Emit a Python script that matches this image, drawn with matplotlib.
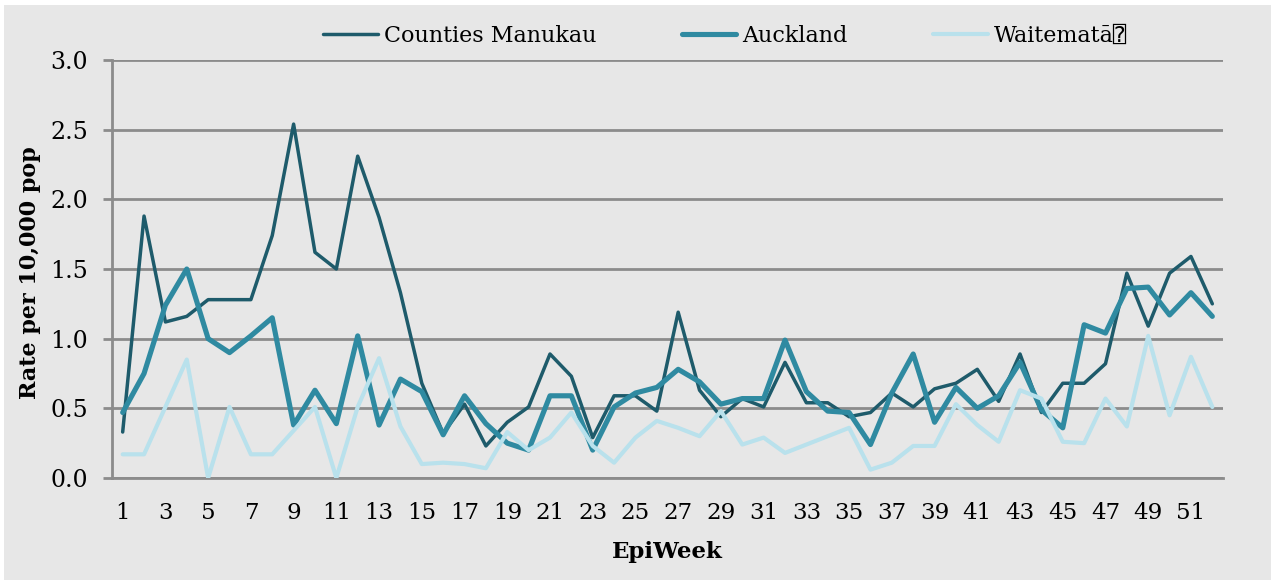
import matplotlib
matplotlib.use("Agg")
import matplotlib.pyplot as plt
from matplotlib.patches import Rectangle
from matplotlib.font_manager import FontProperties

plt.rcParams.update({'font.family': 'DejaVu Serif'})

# Tasas semanales por 10,000 habitantes
weeks = list(range(1, 53))
counties = [0.33, 1.88, 1.12, 1.16, 1.28, 1.28, 1.28, 1.74, 2.54, 1.62,
            1.50, 2.31, 1.87, 1.33, 0.68, 0.32, 0.53, 0.23, 0.40, 0.51,
            0.89, 0.73, 0.29, 0.59, 0.59, 0.48, 1.19, 0.63, 0.44, 0.57,
            0.51, 0.83, 0.54, 0.54, 0.44, 0.47, 0.61, 0.51, 0.64, 0.68,
            0.78, 0.55, 0.89, 0.47, 0.68, 0.68, 0.82, 1.47, 1.09, 1.47,
            1.59, 1.25]
auckland = [0.47, 0.75, 1.24, 1.50, 1.00, 0.90, 1.02, 1.15, 0.38, 0.63,
            0.39, 1.02, 0.38, 0.71, 0.62, 0.31, 0.59, 0.39, 0.25, 0.20,
            0.59, 0.59, 0.20, 0.51, 0.61, 0.65, 0.78, 0.69, 0.53, 0.57,
            0.57, 0.99, 0.62, 0.48, 0.47, 0.24, 0.61, 0.89, 0.40, 0.65,
            0.50, 0.59, 0.83, 0.49, 0.36, 1.10, 1.04, 1.36, 1.37, 1.17,
            1.33, 1.16]
waitemata = [0.17, 0.17, 0.51, 0.85, 0.00, 0.51, 0.17, 0.17, 0.34, 0.51,
             0.00, 0.51, 0.86, 0.37, 0.10, 0.11, 0.10, 0.07, 0.33, 0.20,
             0.29, 0.47, 0.23, 0.11, 0.29, 0.41, 0.36, 0.30, 0.48, 0.24,
             0.29, 0.18, 0.24, 0.30, 0.36, 0.06, 0.11, 0.23, 0.23, 0.53,
             0.38, 0.26, 0.63, 0.57, 0.26, 0.25, 0.57, 0.37, 1.02, 0.45,
             0.87, 0.51]
series_names = ['Counties Manukau', 'Auckland', 'Waitematā\u2370']
xtick_weeks = weeks[::2]
ytick_vals = [0.0, 0.5, 1.0, 1.5, 2.0, 2.5, 3.0]

BG = '#E7E7E7'
GRID = '#8C8C8C'
STYLES = [('#1E5B6B', 2.5), ('#2F8AA1', 3.7), ('#B9E1EC', 3.0)]

fig = plt.figure(figsize=(12.71, 5.80), dpi=100, facecolor=BG)
# fina franja blanca arriba y a la izquierda, como en el original
fig.patches.append(Rectangle((0, 1 - 5 / 580), 1, 5 / 580, transform=fig.transFigure,
                             facecolor='white', edgecolor='none', zorder=-10))
fig.patches.append(Rectangle((0, 0), 4 / 1271, 1, transform=fig.transFigure,
                             facecolor='white', edgecolor='none', zorder=-10))

ax = fig.add_axes([112 / 1271, 1 - 478 / 580, (1223 - 112) / 1271, (478 - 60) / 580])
ax.set_facecolor(BG)

for vals, name, (col, lw) in zip([counties, auckland, waitemata], series_names, STYLES):
    ax.plot(weeks, vals, color=col, lw=lw, label=name,
            solid_joinstyle='round', solid_capstyle='round', zorder=3)

ax.set_xlim(0.5, 52.5)
ax.set_ylim(0, 3.0)
ax.set_xticks(xtick_weeks)
ax.set_xticklabels([str(w) for w in xtick_weeks])
ax.set_yticks(ytick_vals)
ax.set_yticklabels([f'{v:.1f}' for v in ytick_vals])
ax.tick_params(axis='x', length=0, pad=17, labelsize=16.5)
ax.tick_params(axis='y', length=6.5, width=2, color=GRID, pad=11, labelsize=17)
ax.yaxis.grid(True, color=GRID, lw=2)
ax.set_axisbelow(True)
for s in ['top', 'right']:
    ax.spines[s].set_visible(False)
for s in ['left', 'bottom']:
    ax.spines[s].set_color(GRID)
    ax.spines[s].set_linewidth(2)

fig.text(667 / 1271, 1 - 552 / 580, 'EpiWeek', ha='center', va='center',
         fontsize=16.5, fontweight='bold')
fig.text(30 / 1271, 1 - 273 / 580, 'Rate per 10,000 pop', ha='center', va='center',
         rotation=90, fontsize=16, fontweight='bold')

fs = 16
fig.legend(loc='center', bbox_to_anchor=(725 / 1271, 1 - 36 / 580), ncol=3,
           frameon=False, handlelength=2.45, handletextpad=0.27, columnspacing=3.85,
           prop=FontProperties(family=['DejaVu Serif', 'DejaVu Sans', 'DejaVu Sans Mono'], size=fs))

fig.savefig('out.png', dpi=100, facecolor=BG)
